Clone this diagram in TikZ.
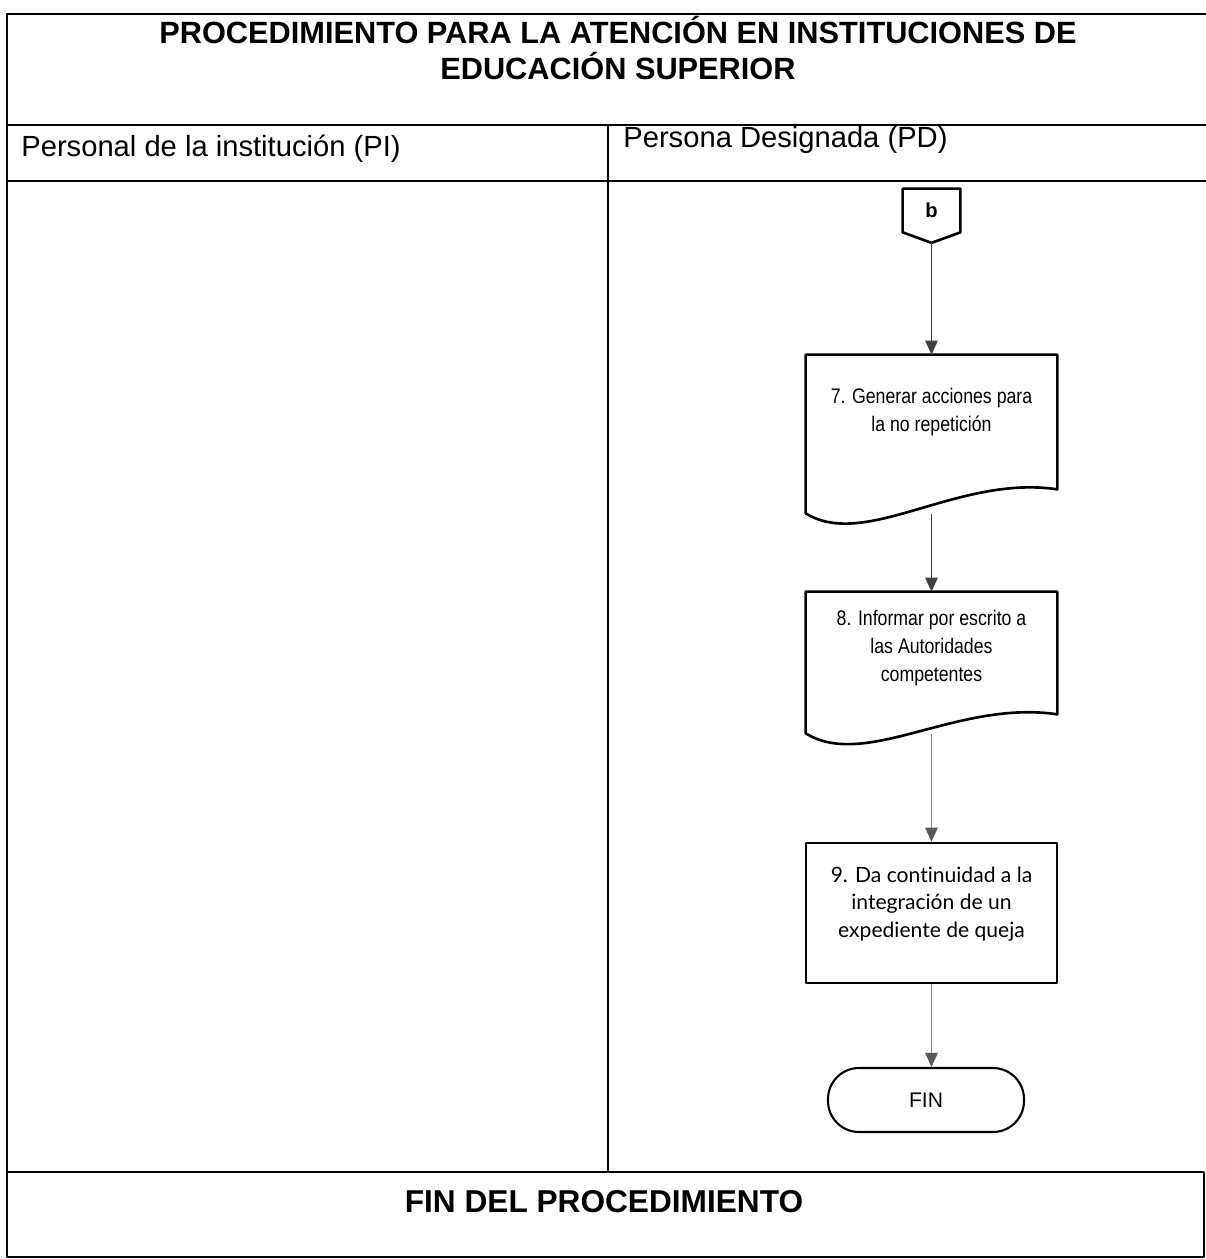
\documentclass[tikz,border=0pt]{standalone}
\usepackage{fontspec}
\setmainfont{Liberation Sans}
\newfontfamily\narrowfont{Liberation Sans}[FakeStretch=0.84]
\newfontfamily\stepfont{Lato}[Ligatures=NoCommon]
\usetikzlibrary{arrows.meta}
% document outline: node, drop of right end, drop of left end
\newcommand{\docshape}[3]{%
  \draw[boxline] (#1.north west) -- (#1.north east) -- ([yshift=-#2]#1.south east)
    .. controls +(-100,-15) and +(60,37) .. ([yshift=-#3]#1.south west) -- cycle;}

\begin{document}
\begin{tikzpicture}[line cap=round,line join=round,>={Triangle[length=0.28cm,width=0.25cm]},x=0.02cm,y=-0.02cm,
    frame/.style={line width=1pt},
    boxline/.style={line width=1.5pt},
    docbox/.style={minimum width=5.02cm,inner sep=0pt,align=center,font=\narrowfont\fontsize{12}{16}\selectfont},
    flow/.style={->,line width=0.6pt,draw=black!75},
    flowgrey/.style={line width=0.6pt,draw=black!45,-{Triangle[length=0.28cm,width=0.25cm,color=black!65]}}]
    \useasboundingbox (0,0) rectangle (1206,1259);

    % Frame and lanes
    \draw[frame] (1206,14) -- (7,14) -- (7,1172);
    \draw[frame] (7,125) -- (1206,125);
    \draw[frame] (7,181) -- (1206,181);
    \draw[line width=0.6pt] (608,125) -- (608,1172);
    \draw[boxline] (7,1172) rectangle (1204,1257);

    % Headings
    \node[align=center,font=\bfseries\fontsize{17.5}{21}\selectfont] (title) at (618,48) {PROCEDIMIENTO PARA LA ATENCIÓN EN INSTITUCIONES DE\\EDUCACIÓN SUPERIOR};
    \node[anchor=base west,inner sep=0pt,font=\fontsize{16.6}{19}\selectfont] (lanePI) at (21,156) {Personal de la institución (PI)};
    \node[anchor=base west,inner sep=0pt,font=\fontsize{16.6}{19}\selectfont] (lanePD) at (623,147) {Persona Designada (PD)};
    \node[anchor=base,inner sep=0pt,font=\bfseries\fontsize{18}{21}\selectfont] (fin proc) at (604,1212) {FIN DEL PROCEDIMIENTO};

    % Steps
    \node[minimum width=1.14cm,minimum height=0.86cm,inner sep=0pt,font=\bfseries\fontsize{11.5}{13}\selectfont] (b) at (931.5,210.5) {b};
    \draw[boxline] (b.north west) -- (b.north east) -- (b.south east) -- ([yshift=-0.21cm]b.south) -- (b.south west) -- cycle;
    \coordinate (btip) at ([yshift=-0.21cm]b.south);

    \node[docbox,minimum height=2.28cm] (p7) at (931.5,412) {7. Generar acciones para\\la no repetición};
    \docshape{p7}{0.4cm}{0.88cm}

    \node[docbox,minimum height=2.24cm] (p8) at (931.5,648) {8. Informar por escrito a\\las Autoridades\\competentes};
    \docshape{p8}{0.2cm}{0.58cm}

    \node[draw,boxline,minimum width=5.02cm,minimum height=2.8cm] (p9) at (931.5,913) {};
    \node[align=center,font=\stepfont\fontsize{12}{15.5}\selectfont] (p9text) at (931.5,904) {9. Da continuidad a la\\integración de un\\expediente de queja};

    \node[draw,line width=1.2pt,rounded corners=0.62cm,minimum width=3.92cm,minimum height=1.28cm,font=\fontsize{12}{14}\selectfont] (fin) at (926,1100) {FIN};

    % Connectors
    \draw[flow] (btip) -- (p7.north);
    \draw[flow] ([yshift=-0.9cm]p7.south) -- (p8.north);
    \draw[flowgrey] ([yshift=-0.6cm]p8.south) -- (p9.north);
    \draw[flowgrey] (p9.south) -- (fin.north -| p9.south);
\end{tikzpicture}
\end{document}
